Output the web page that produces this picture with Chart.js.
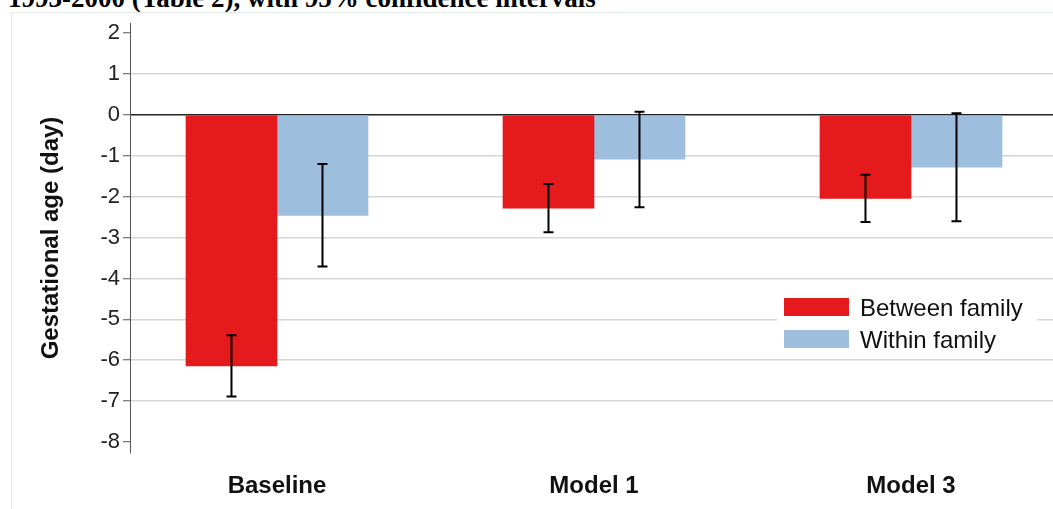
<!DOCTYPE html>
<html>
<head>
<meta charset="utf-8">
<script src="https://cdn.jsdelivr.net/npm/chart.js@4.4.0/dist/chart.umd.min.js"></script>
<style>
    html, body { margin: 0; padding: 0; background: #fff; overflow: hidden; }
    body { width: 1053px; height: 509px; position: relative; }
    .caption {
        position: absolute; left: 8px; top: -15px; white-space: nowrap;
        font: bold 27px/27px 'Liberation Serif', 'Times New Roman', serif; color: #000;
    }
    .frame {
        position: absolute; left: 11px; top: 12px; right: -2px; bottom: -2px;
        border-top: 1px solid #e2eaec; border-left: 1px solid #e2eaec;
    }
    .wrap { position: absolute; left: 0; top: 0; width: 1053px; height: 509px; }
</style>
</head>
<body>
<div class="caption">1993-2000 (Table 2), with 95% confidence intervals</div>
<div class="frame"></div>
<div class="wrap"><canvas id="chart"></canvas></div>
<script>
// Data
const categories = ['Baseline', 'Model 1', 'Model 3'];
const seriesNames = ['Between family', 'Within family'];
const betweenFamily = [-6.14, -2.28, -2.04];
const betweenLow = [-6.89, -2.87, -2.62];
const betweenHigh = [-5.39, -1.69, -1.46];
const withinFamily = [-2.46, -1.08, -1.28];
const withinLow = [-3.71, -2.26, -2.60];
const withinHigh = [-1.20, 0.08, 0.04];
const yTicks = [2, 1, 0, -1, -2, -3, -4, -5, -6, -7, -8];

const RED = '#e41a1c';
const BLUE = '#9ebedd';
const FONT = "'Liberation Sans', Arial, sans-serif";

// Error bars drawn from the low/high arrays
const errorBars = {
    id: 'errorBars',
    afterDatasetsDraw(chart) {
        const ctx = chart.ctx;
        const y = chart.scales.y;
        const ranges = [[betweenLow, betweenHigh], [withinLow, withinHigh]];
        ctx.save();
        ctx.strokeStyle = '#000';
        ctx.lineWidth = 2;
        chart.data.datasets.forEach((ds, di) => {
            chart.getDatasetMeta(di).data.forEach((bar, i) => {
                const lo = y.getPixelForValue(ranges[di][0][i]);
                const hi = y.getPixelForValue(ranges[di][1][i]);
                ctx.beginPath();
                ctx.moveTo(bar.x, lo); ctx.lineTo(bar.x, hi);
                ctx.moveTo(bar.x - 5, lo); ctx.lineTo(bar.x + 5, lo);
                ctx.moveTo(bar.x - 5, hi); ctx.lineTo(bar.x + 5, hi);
                ctx.stroke();
            });
        });
        ctx.restore();
    }
};

// Legend boxed inside the plot, lower right
const insideLegend = {
    id: 'insideLegend',
    afterDatasetsDraw(chart) {
        const ctx = chart.ctx;
        const area = chart.chartArea;
        const left = area.right - 276;
        const top = 289;
        ctx.save();
        ctx.fillStyle = '#fff';
        ctx.fillRect(left, top, 260, 66);
        ctx.font = '24px ' + FONT;
        ctx.textBaseline = 'middle';
        chart.data.datasets.forEach((ds, i) => {
            const by = top + 9 + i * 32;
            ctx.fillStyle = ds.backgroundColor;
            ctx.fillRect(left + 7, by, 65, 18);
            ctx.fillStyle = '#111';
            ctx.fillText(ds.label, left + 83, by + 11);
        });
        ctx.restore();
    }
};

new Chart(document.getElementById('chart'), {
    type: 'bar',
    data: {
        datasets: [{
            label: seriesNames[0],
            data: betweenFamily.map((v, i) => ({ x: i + 1, y: v })),
            backgroundColor: RED,
            barThickness: 91
        }, {
            label: seriesNames[1],
            data: withinFamily.map((v, i) => ({ x: i + 1, y: v })),
            backgroundColor: BLUE,
            barThickness: 91
        }]
    },
    options: {
        responsive: true,
        maintainAspectRatio: false,
        animation: false,
        layout: { padding: { top: 23, right: 0, bottom: 0, left: 0 } },
        plugins: {
            legend: { display: false },
            tooltip: { enabled: false }
        },
        scales: {
            x: {
                type: 'linear',
                offset: false,
                min: 0.5363,
                max: 3.448,
                afterBuildTicks: s => { s.ticks = categories.map((c, i) => ({ value: i + 1 })); },
                afterFit: s => { s.height = 56; },
                grid: { display: false, offset: false },
                border: { display: false },
                ticks: {
                    callback: v => categories[v - 1],
                    color: '#111',
                    padding: 11,
                    maxRotation: 0,
                    font: { family: FONT, size: 24, weight: 'bold' }
                }
            },
            y: {
                min: -8.27,
                max: 2.25,
                afterBuildTicks: s => { s.ticks = yTicks.map(v => ({ value: v })); },
                afterFit: s => { s.width = 130; },
                border: { display: true, color: '#555', width: 1 },
                grid: {
                    color: c => c.tick && c.tick.value === 0 ? '#222'
                        : (c.tick && (c.tick.value === 2 || c.tick.value === -8) ? 'rgba(0,0,0,0)' : '#d6d6d6'),
                    lineWidth: 1.5,
                    tickColor: '#555',
                    tickWidth: 1,
                    tickLength: 7,
                    drawTicks: true
                },
                ticks: {
                    color: '#222',
                    padding: 3,
                    font: { family: FONT, size: 22 }
                },
                title: {
                    display: true,
                    text: 'Gestational age (day)',
                    color: '#111',
                    padding: { top: 37, bottom: 0 },
                    font: { family: FONT, size: 24, weight: 'bold' }
                }
            }
        }
    },
    plugins: [errorBars, insideLegend]
});
</script>
</body>
</html>
